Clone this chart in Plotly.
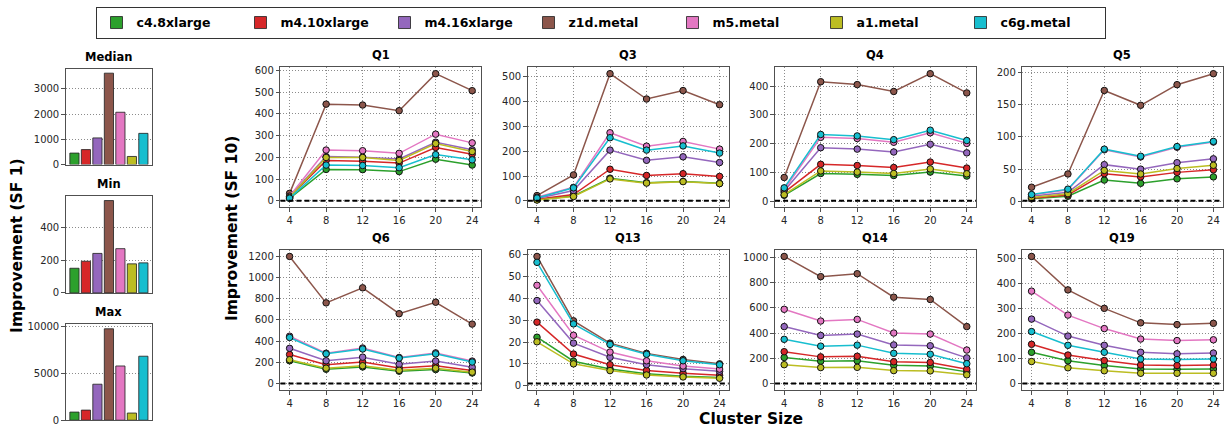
import plotly.graph_objects as go

W, H = 1224, 436

instances = ["c4.8xlarge", "m4.10xlarge", "m4.16xlarge", "z1d.metal", "m5.metal", "a1.metal", "c6g.metal"]
colors = ["#2ca02c", "#d62728", "#9467bd", "#8c564b", "#e377c2", "#bcbd22", "#17becf"]
cluster_sizes = [4, 8, 12, 16, 20, 24]

# SF 1 improvement (bars), order follows `instances`
sf1_median = [455, 593, 1055, 3615, 2070, 322, 1235]
sf1_min = [151, 194, 242, 566, 271, 178, 184]
sf1_max = [870, 1080, 3850, 9780, 5800, 765, 6845]

# SF 10 improvement per query: one row per instance, one value per cluster size
q1 = [[12, 145, 144, 135, 192, 165],
      [18, 186, 183, 174, 246, 215],
      [20, 204, 201, 193, 270, 235],
      [35, 445, 441, 415, 585, 507],
      [22, 234, 231, 219, 307, 267],
      [17, 200, 200, 186, 264, 227],
      [13, 165, 163, 153, 213, 189]]
q3 = [[5, 20, 92, 74, 79, 71],
      [7, 26, 128, 103, 110, 99],
      [10, 42, 205, 164, 178, 155],
      [22, 105, 513, 411, 445, 388],
      [15, 55, 275, 221, 240, 209],
      [4, 18, 89, 72, 78, 70],
      [12, 53, 255, 205, 222, 193]]
q4 = [[20, 96, 93, 89, 101, 87],
      [30, 128, 124, 117, 136, 115],
      [35, 186, 181, 171, 198, 168],
      [82, 416, 406, 382, 444, 377],
      [40, 222, 218, 205, 238, 201],
      [22, 105, 101, 96, 112, 95],
      [46, 232, 227, 214, 247, 211]]
q5 = [[4, 8, 33, 28, 35, 38],
      [5, 10, 43, 38, 45, 49],
      [8, 14, 57, 50, 60, 66],
      [22, 42.5, 172, 149, 181, 198],
      [10, 18, 80, 69, 84, 92],
      [6, 12, 48, 42.5, 51, 56],
      [10.6, 19, 81, 70, 85, 93]]
q6 = [[215, 135, 157, 117, 132, 100],
      [274, 178, 203, 148, 169, 123],
      [332, 215, 249, 182, 212, 154],
      [1197, 760, 902, 658, 766, 560],
      [446, 286, 335, 246, 289, 212],
      [225, 145, 168, 125, 145, 108],
      [434, 280, 326, 240, 280, 203]]
q13 = [[22.2, 11.2, 7.6, 5.5, 4.3, 3.7],
       [29.1, 14.5, 9.6, 7.0, 5.7, 4.8],
       [39, 19.5, 13, 9.6, 7.8, 6.6],
       [59.2, 29.7, 19.5, 14.8, 12, 10],
       [46, 23.1, 15.4, 11.4, 9, 7.6],
       [20.1, 10, 6.9, 4.9, 4.0, 3.4],
       [56.5, 28.3, 18.9, 14.4, 11.4, 9.6]]
q14 = [[207, 178, 181, 145, 140, 93],
       [253, 212, 217, 173, 168, 114],
       [452, 382, 393, 307, 300, 204],
       [1008, 848, 871, 685, 667, 452],
       [589, 496, 509, 401, 393, 266],
       [150, 127, 129, 103, 101, 70],
       [351, 297, 305, 240, 233, 158]]
q19 = [[126, 92, 73, 59, 58, 59],
       [158, 115, 93, 75, 73, 75],
       [259, 191, 154, 126, 120, 123],
       [510, 376, 302, 244, 237, 242],
       [371, 275, 221, 179, 173, 176],
       [89, 64, 52, 42, 42, 42],
       [209, 154, 126, 99, 97, 99]]

queries = [("Q1", q1, 100), ("Q3", q3, 100), ("Q4", q4, 100), ("Q5", q5, 50),
           ("Q6", q6, 200), ("Q13", q13, 10), ("Q14", q14, 200), ("Q19", q19, 100)]
bars = [("Median", sf1_median, 1000), ("Min", sf1_min, 200), ("Max", sf1_max, 5000)]
baseline = 1

FONT = "DejaVu Sans"
TXT = "#262626"
FRAME = "#505050"
GRID = "rgba(110,110,110,0.8)"
GRIDDASH = "1px,2px"


def xd(a, b):
    return [a / W, b / W]


def yd(top, bottom):
    return [(H - bottom) / H, (H - top) / H]


fig = go.Figure()
layout = {}
annotations = []
shapes = []

axis_common = dict(showline=True, linecolor=FRAME, linewidth=1.4, mirror=True,
                   ticklen=3.5, tickcolor=FRAME, tickwidth=1, tickformat="d",
                   tickfont=dict(family=FONT, size=10, color=TXT), zeroline=False)

# ---- left bar panels ----
bar_rows = [(67, 165), (197, 296), (328, 426)]
for i, (title, vals, dt) in enumerate(bars):
    n = i + 1
    xa = f"xaxis{n}" if n > 1 else "xaxis"
    ya = f"yaxis{n}" if n > 1 else "yaxis"
    top, bot = bar_rows[i]
    layout[xa] = dict(domain=xd(66, 152), anchor=f"y{n}", range=[-0.74, len(instances) - 0.26],
                      showticklabels=False, showgrid=False, ticks="", **axis_common)
    layout[ya] = dict(domain=yd(top, bot), anchor=f"x{n}", range=[0, max(vals) * 1.05],
                      dtick=dt, ticks="outside", showgrid=True, gridcolor=GRID, griddash=GRIDDASH,
                      gridwidth=1, **axis_common)
    for j, inst in enumerate(instances):
        fig.add_trace(go.Bar(x=[j], y=[vals[j]], width=0.8, name=inst,
                             marker=dict(color=colors[j], line=dict(color="rgba(40,40,40,0.85)", width=1)),
                             xaxis=f"x{n}", yaxis=f"y{n}", showlegend=(i == 0), legendgroup=inst))
    annotations.append(dict(text=f"<b>{title}</b>", x=109 / W, y=(H - top) / H, xref="paper", yref="paper",
                            xanchor="center", yanchor="bottom", yshift=3, showarrow=False,
                            font=dict(family=FONT, size=11.5, color="#000")))

# ---- right line panels ----
cols = [(280.7, 481.7), (528.3, 729.3), (775.7, 976.7), (1023.3, 1223.5)]
rows = [(65.7, 208.4), (252.3, 395)]
for k, (qname, data, dt) in enumerate(queries):
    n = k + 4
    r, c = divmod(k, 4)
    x0, x1 = cols[c]
    top, bot = rows[r]
    lo = min(baseline, min(min(s) for s in data))
    hi = max(max(s) for s in data)
    pad = 0.05 * (hi - lo)
    layout[f"xaxis{n}"] = dict(domain=xd(x0, x1), anchor=f"y{n}", range=[3, 25], ticks="outside",
                               tickvals=cluster_sizes, showgrid=True, gridcolor=GRID, griddash=GRIDDASH,
                               gridwidth=1, **axis_common)
    layout[f"yaxis{n}"] = dict(domain=yd(top, bot), anchor=f"x{n}", range=[lo - pad, hi + pad], ticks="outside",
                               dtick=dt, showgrid=True, gridcolor=GRID, griddash=GRIDDASH,
                               gridwidth=1, **axis_common)
    for j, inst in enumerate(instances):
        fig.add_trace(go.Scatter(x=cluster_sizes, y=data[j], mode="lines+markers", name=inst,
                                 line=dict(color=colors[j], width=1.5),
                                 marker=dict(color=colors[j], size=6.5, line=dict(color="#111", width=1)),
                                 xaxis=f"x{n}", yaxis=f"y{n}", showlegend=False, legendgroup=inst))
    shapes.append(dict(type="line", xref=f"x{n} domain", yref=f"y{n}", x0=0, x1=1,
                       y0=baseline, y1=baseline, line=dict(color="#000", width=2, dash="5px,3px")))
    annotations.append(dict(text=f"<b>{qname}</b>", x=(x0 + x1) / 2 / W, y=(H - top) / H,
                            xref="paper", yref="paper", xanchor="center", yanchor="bottom", yshift=3,
                            showarrow=False, font=dict(family=FONT, size=11.5, color="#000")))

# axis titles
annotations.append(dict(text="<b>Improvement (SF 1)</b>", x=17 / W, y=(H - 247) / H, xref="paper", yref="paper",
                        textangle=-90, showarrow=False, xanchor="center", yanchor="middle",
                        font=dict(family=FONT, size=15.5, color="#000")))
annotations.append(dict(text="<b>Improvement (SF 10)</b>", x=232 / W, y=(H - 230) / H, xref="paper", yref="paper",
                        textangle=-90, showarrow=False, xanchor="center", yanchor="middle",
                        font=dict(family=FONT, size=15.5, color="#000")))
annotations.append(dict(text="<b>Cluster Size</b>", x=752 / W, y=(H - 425) / H, xref="paper", yref="paper",
                        showarrow=False, xanchor="center", yanchor="middle",
                        font=dict(family=FONT, size=15.5, color="#000")))

fig.update_layout(**layout)
fig.update_layout(
    width=W, height=H, margin=dict(l=0, r=0, t=0, b=0),
    paper_bgcolor="white", plot_bgcolor="white",
    annotations=annotations, shapes=shapes, barmode="overlay",
    legend=dict(orientation="h", x=601 / W, y=(H - 4) / H, xanchor="center", yanchor="top",
                bordercolor="#333", borderwidth=1, bgcolor="white",
                font=dict(family=FONT, size=12.5, color="#000", weight="bold"), traceorder="normal",
                itemwidth=30, entrywidth=99, entrywidthmode="pixels"),
    font=dict(family=FONT),
)

fig.write_html("out.html")
